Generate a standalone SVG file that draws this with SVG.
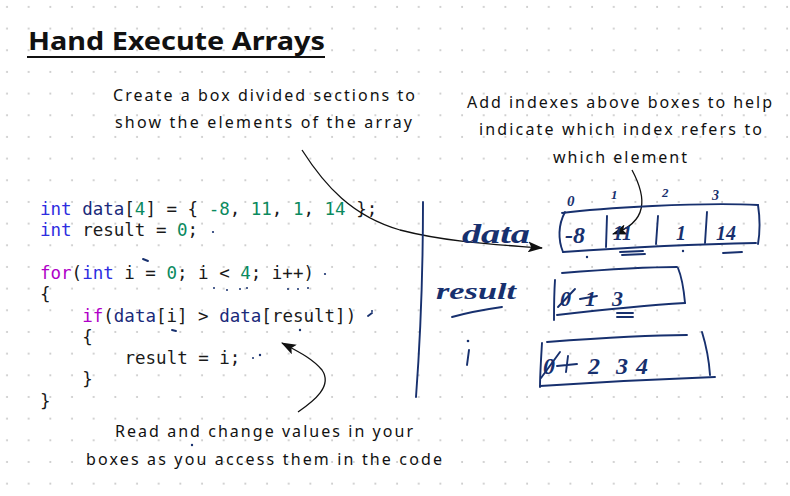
<svg xmlns="http://www.w3.org/2000/svg" width="790" height="496" viewBox="0 0 790 496">
<defs>
<pattern id="dots" patternUnits="userSpaceOnUse" x="0" y="0" width="21.67" height="21.67">
<circle cx="7" cy="7" r="1" fill="#c4c4c4"/>
</pattern>
<marker id="ah" markerUnits="userSpaceOnUse" viewBox="0 0 14 10" refX="13" refY="5" markerWidth="15" markerHeight="11" orient="auto">
<path d="M0,0 L14,5 L0,10 L3,5 z" fill="#111"/>
</marker>
</defs>
<style>
.note{font-family:"Noto Sans","DejaVu Sans",sans-serif;font-size:16px;fill:#111;}
.code{font-family:"DejaVu Sans Mono","Liberation Mono",monospace;font-size:17.5px;fill:#1a1a1a;white-space:pre;}
.kw{fill:#2d2de0;}
.ctl{fill:#b000c8;}
.var{fill:#1a2a7a;}
.num{fill:#0b8a5e;}
.hw{font-family:"Liberation Serif","DejaVu Serif",serif;font-style:italic;font-weight:bold;fill:#17306e;}
.ink{fill:none;stroke:#17306e;stroke-width:1.9;stroke-linecap:round;stroke-linejoin:round;}
.arrow{fill:none;stroke:#111;stroke-width:1.3;}
</style>
<rect width="790" height="496" fill="#ffffff"/>
<rect width="790" height="496" fill="url(#dots)"/>

<g id="title">
<text x="28" y="50" font-family="Noto Sans, DejaVu Sans, sans-serif" font-weight="bold" font-size="25" fill="#111" textLength="297" lengthAdjust="spacingAndGlyphs">Hand Execute Arrays</text>
<line x1="27" y1="57" x2="325" y2="57" stroke="#111" stroke-width="2.2"/>
</g>

<g id="note-box">
<text class="note" x="113" y="101" textLength="302" lengthAdjust="spacing">Create a box divided sections to</text>
<text class="note" x="115" y="128" textLength="297" lengthAdjust="spacing">show the elements of the array</text>
</g>

<g id="note-index">
<text class="note" x="467" y="108" textLength="305" lengthAdjust="spacing">Add indexes above boxes to help</text>
<text class="note" x="479" y="135" textLength="283" lengthAdjust="spacing">indicate which index refers to</text>
<text class="note" x="553" y="163" textLength="134" lengthAdjust="spacing">which element</text>
</g>

<g id="note-read">
<text class="note" x="115" y="437" textLength="298" lengthAdjust="spacing">Read and change values in your</text>
<text class="note" x="86" y="465" textLength="356" lengthAdjust="spacing">boxes as you access them in the code</text>
</g>

<g id="code">
<text class="code" x="40" y="215"><tspan class="kw">int</tspan> <tspan class="var">data</tspan>[<tspan class="num">4</tspan>] = { <tspan class="num">-8</tspan>, <tspan class="num">11</tspan>, <tspan class="num">1</tspan>, <tspan class="num">14</tspan> };</text>
<text class="code" x="40" y="236.3"><tspan class="kw">int</tspan> result = <tspan class="num">0</tspan>;</text>
<text class="code" x="40" y="278.9"><tspan class="ctl">for</tspan>(<tspan class="kw">int</tspan> i = <tspan class="num">0</tspan>; i &lt; <tspan class="num">4</tspan>; i++)</text>
<text class="code" x="40" y="300.2">{</text>
<text class="code" x="82.2" y="321.5"><tspan class="ctl">if</tspan>(<tspan class="var">data</tspan>[i] &gt; <tspan class="var">data</tspan>[result])</text>
<text class="code" x="82.2" y="342.8">{</text>
<text class="code" x="124.5" y="364.1">result = i;</text>
<text class="code" x="82.2" y="385.4">}</text>
<text class="code" x="40" y="406.7">}</text>
</g>

<g id="connectors">
<path class="arrow" d="M302,150 C325,186 352,216 400,230 C450,243 505,245 542,248" marker-end="url(#ah)"/>
<path class="arrow" d="M632,170 C647,198 648,222 613,234" marker-end="url(#ah)"/>
<path class="arrow" d="M298,412 C314,401 333,386 322,370 C312,358 297,351 282,343" marker-end="url(#ah)"/>
</g>

<g id="divider">
<path class="ink" d="M423,202 C423,260 421,330 416,397"/>
</g>

<g id="array-data">
<text class="hw" x="462" y="243" font-size="28" textLength="68" lengthAdjust="spacingAndGlyphs">data</text>
<path class="ink" d="M562,213 C600,208 700,202 758,205"/>
<path class="ink" d="M565,212 C558,225 558,240 563,252"/>
<path class="ink" d="M563,252 C620,248 700,244 756,243"/>
<path class="ink" d="M758,205 C760,218 760,232 758,244"/>
<path class="ink" d="M607,216 L606,247"/>
<path class="ink" d="M658,216 L656,244"/>
<path class="ink" d="M707,212 L705,243"/>
<text class="hw" x="565" y="243" font-size="24">-8</text>
<text class="hw" x="613" y="240" font-size="20">11</text>
<text class="hw" x="676" y="240" font-size="20">1</text>
<text class="hw" x="716" y="240" font-size="20">14</text>
<text class="hw" x="567" y="206" font-size="15">0</text>
<text class="hw" x="611" y="199" font-size="13">1</text>
<text class="hw" x="662" y="197" font-size="13">2</text>
<text class="hw" x="712" y="200" font-size="14">3</text>
<path class="ink" d="M620,252 L643,251 M622,255 L645,254 M723,253 L742,252"/>
<circle cx="587" cy="257" r="1.2" fill="#17306e"/>
<circle cx="683" cy="251" r="1.2" fill="#17306e"/>
</g>

<g id="var-result">
<text class="hw" x="436" y="299" font-size="24" textLength="80" lengthAdjust="spacingAndGlyphs">result</text>
<path class="ink" d="M452,317 C470,312 488,309 502,307"/>
<path class="ink" d="M562,273 C600,270 650,267 677,267"/>
<path class="ink" d="M678,268 C683,280 684,292 685,303"/>
<path class="ink" d="M557,315 C600,310 650,305 685,303"/>
<path class="ink" d="M555,280 C554,295 554,308 554,320"/>
<text class="hw" x="560" y="306" font-size="22">0</text>
<path class="ink" d="M558,307 L575,289"/>
<text class="hw" x="585" y="306" font-size="22">1</text>
<path class="ink" d="M580,299 L597,296"/>
<text class="hw" x="612" y="306" font-size="22">3</text>
<path class="ink" d="M617,313 L633,313 M617,317 L633,317"/>
</g>

<g id="var-i">
<circle cx="468" cy="341" r="1.3" fill="#17306e"/>
<path class="ink" d="M469,350 L467,365"/>
<path class="ink" d="M547,342 C600,338 650,335 687,335"/>
<path class="ink" d="M702,332 C706,345 709,360 710,375"/>
<path class="ink" d="M540,386 C600,382 660,379 715,377"/>
<path class="ink" d="M542,343 C541,360 540,375 540,387"/>
<text class="hw" x="543" y="374" font-size="24">0</text>
<path class="ink" d="M541,378 L560,352"/>
<path class="ink" d="M557,366 L577,364 M568,356 L566,372"/>
<text class="hw" x="588" y="374" font-size="24">2</text>
<text class="hw" x="616" y="374" font-size="24">3</text>
<text class="hw" x="636" y="374" font-size="24">4</text>
</g>

<g id="marks" fill="#17306e">
<circle cx="213" cy="232" r="1.1"/>
<path class="ink" d="M143,259 L148,261" stroke-width="1.4"/>
<circle cx="325" cy="274" r="1.1"/>
<circle cx="214" cy="288" r="1"/><circle cx="227" cy="290" r="1"/><circle cx="240" cy="289" r="1"/><circle cx="247" cy="288" r="1"/>
<circle cx="288" cy="289" r="1"/><circle cx="298" cy="289" r="1"/><circle cx="308" cy="288" r="1"/>
<path class="ink" d="M368,316 L372,313" stroke-width="1.4"/>
<circle cx="372" cy="311" r="1"/>
<path class="ink" d="M172,330 L176,331" stroke-width="1.4"/>
<circle cx="300" cy="330" r="1.2"/>
<circle cx="253" cy="358" r="1"/><circle cx="260" cy="355" r="1.2"/>
<circle cx="192" cy="445" r="1.2"/>
</g>
</svg>
